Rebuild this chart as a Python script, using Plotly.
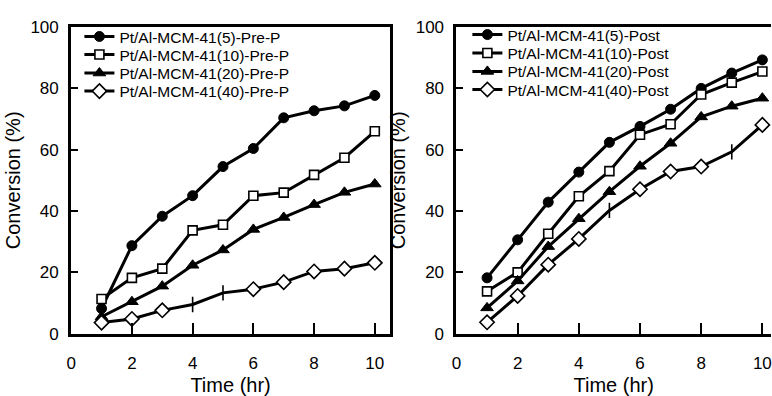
import plotly.graph_objects as go

time_hr = [1, 2, 3, 4, 5, 6, 7, 8, 9, 10]

pre_5 = [8.2, 28.7, 38.3, 45.0, 54.5, 60.4, 70.4, 72.7, 74.3, 77.7]
pre_10 = [11.3, 18.2, 21.2, 33.7, 35.5, 45.0, 46.0, 51.8, 57.4, 66.0]
pre_20 = [5.5, 10.4, 15.5, 22.3, 27.3, 34.0, 37.9, 42.1, 46.1, 48.8]
pre_40 = [3.6, 4.8, 7.6, 9.5, 13.3, 14.5, 16.8, 20.3, 21.2, 23.1]

post_5 = [18.2, 30.6, 42.9, 52.7, 62.4, 67.6, 73.2, 80.0, 85.0, 89.3]
post_10 = [13.8, 20.0, 32.6, 44.8, 53.0, 64.9, 68.3, 78.0, 81.9, 85.5]
post_20 = [8.4, 17.2, 28.4, 37.5, 46.3, 54.6, 62.1, 70.7, 74.2, 76.8]
post_40 = [3.7, 12.3, 22.5, 30.9, 40.2, 47.1, 52.9, 54.5, 59.3, 68.1]

pre_names = ["Pt/Al-MCM-41(5)-Pre-P", "Pt/Al-MCM-41(10)-Pre-P",
             "Pt/Al-MCM-41(20)-Pre-P", "Pt/Al-MCM-41(40)-Pre-P"]
post_names = ["Pt/Al-MCM-41(5)-Post", "Pt/Al-MCM-41(10)-Post",
              "Pt/Al-MCM-41(20)-Post", "Pt/Al-MCM-41(40)-Post"]

# points in the 40-series drawn as a plain tick in the original
pre_40_tick_points = [4, 5]
post_40_tick_points = [5, 9]

x_ticks = [0, 2, 4, 6, 8, 10]
y_ticks = [0, 20, 40, 60, 80, 100]

FONT = "Arial, 'Liberation Sans', sans-serif"
W, H = 772, 396

# legend row centres (pixels from top) and text start (pixels from left)
pre_legend_rows = [29.3, 48.3, 67.7, 86.7]
post_legend_rows = [27.3, 46.7, 66.0, 85.0]
pre_legend_text_x = 120
post_legend_text_x = 511


def style_for(i, tick_points):
    if i == 0:
        return dict(symbol="circle", color="black", size=10,
                    line=dict(color="black", width=1))
    if i == 1:
        return dict(symbol="square", color="white", size=9,
                    line=dict(color="black", width=1.6))
    if i == 2:
        return dict(symbol="triangle-up", color="black", size=11,
                    line=dict(color="black", width=1))
    syms = ["line-ns" if t in tick_points else "diamond" for t in time_hr]
    return dict(symbol=syms, color="white", size=11,
                line=dict(color="black", width=1.6))


fig = go.Figure()
legend_layout = {}
k = 0
panels = [
    (pre_names, [pre_5, pre_10, pre_20, pre_40], pre_40_tick_points, "x", "y",
     pre_legend_rows, pre_legend_text_x),
    (post_names, [post_5, post_10, post_20, post_40], post_40_tick_points, "x2", "y2",
     post_legend_rows, post_legend_text_x),
]
for names, series, tick_pts, xa, ya, rows, tx in panels:
    for i, (nm, ys) in enumerate(zip(names, series)):
        k += 1
        lname = "legend" if k == 1 else f"legend{k}"
        fig.add_trace(go.Scatter(
            x=time_hr, y=ys, name=nm, mode="lines+markers",
            line=dict(color="black", width=3),
            marker=style_for(i, tick_pts),
            xaxis=xa, yaxis=ya, legend=lname))
        legend_layout[lname] = dict(
            x=(tx - 45) / W, y=(H - rows[i]) / H, xanchor="left", yanchor="middle",
            bgcolor="rgba(0,0,0,0)", borderwidth=0,
            font=dict(family=FONT, size=15.5, color="black"))

top_px, bot_px = 19.0, 341.0
ydom = [(H - bot_px) / H, (H - top_px) / H]
left_dom = [66.7 / W, 388.0 / W]
right_dom = [455.0 / W, 1.0]

common_x = dict(showline=True, linecolor="black", linewidth=3, mirror=True,
                ticks="inside", ticklen=11, tickwidth=1.5, tickcolor="black",
                tickvals=x_ticks, showgrid=False, zeroline=False,
                ticklabelstandoff=12, ticklabeloverflow="allow",
                tickfont=dict(family=FONT, size=17, color="black"),
                title=dict(text="Time (hr)", font=dict(family=FONT, size=20, color="black"),
                           standoff=8))
common_y = dict(showline=True, linecolor="black", linewidth=3,
                ticks="inside", ticklen=7, tickwidth=1.5, tickcolor="black",
                tickvals=y_ticks, range=[0, 100], showgrid=False, zeroline=False,
                tickfont=dict(family=FONT, size=17, color="black"),
                ticklabelstandoff=6,
                title=dict(text="Conversion (%)", font=dict(family=FONT, size=20, color="black"),
                           standoff=5))

fig.update_layout(
    width=W, height=H,
    margin=dict(l=0, r=0, t=0, b=0),
    paper_bgcolor="white", plot_bgcolor="white",
    font=dict(family=FONT, color="black"),
    xaxis=dict(domain=left_dom, range=[0, 10.5], anchor="y", **common_x),
    yaxis=dict(domain=ydom, anchor="x", mirror=True, **common_y),
    xaxis2=dict(domain=right_dom, range=[0, (W - 455.0) / 30.83], anchor="y2", **common_x),
    yaxis2=dict(domain=ydom, anchor="x2", mirror=False, **common_y),
    showlegend=True,
    **legend_layout,
)

fig.write_html("out.html")
